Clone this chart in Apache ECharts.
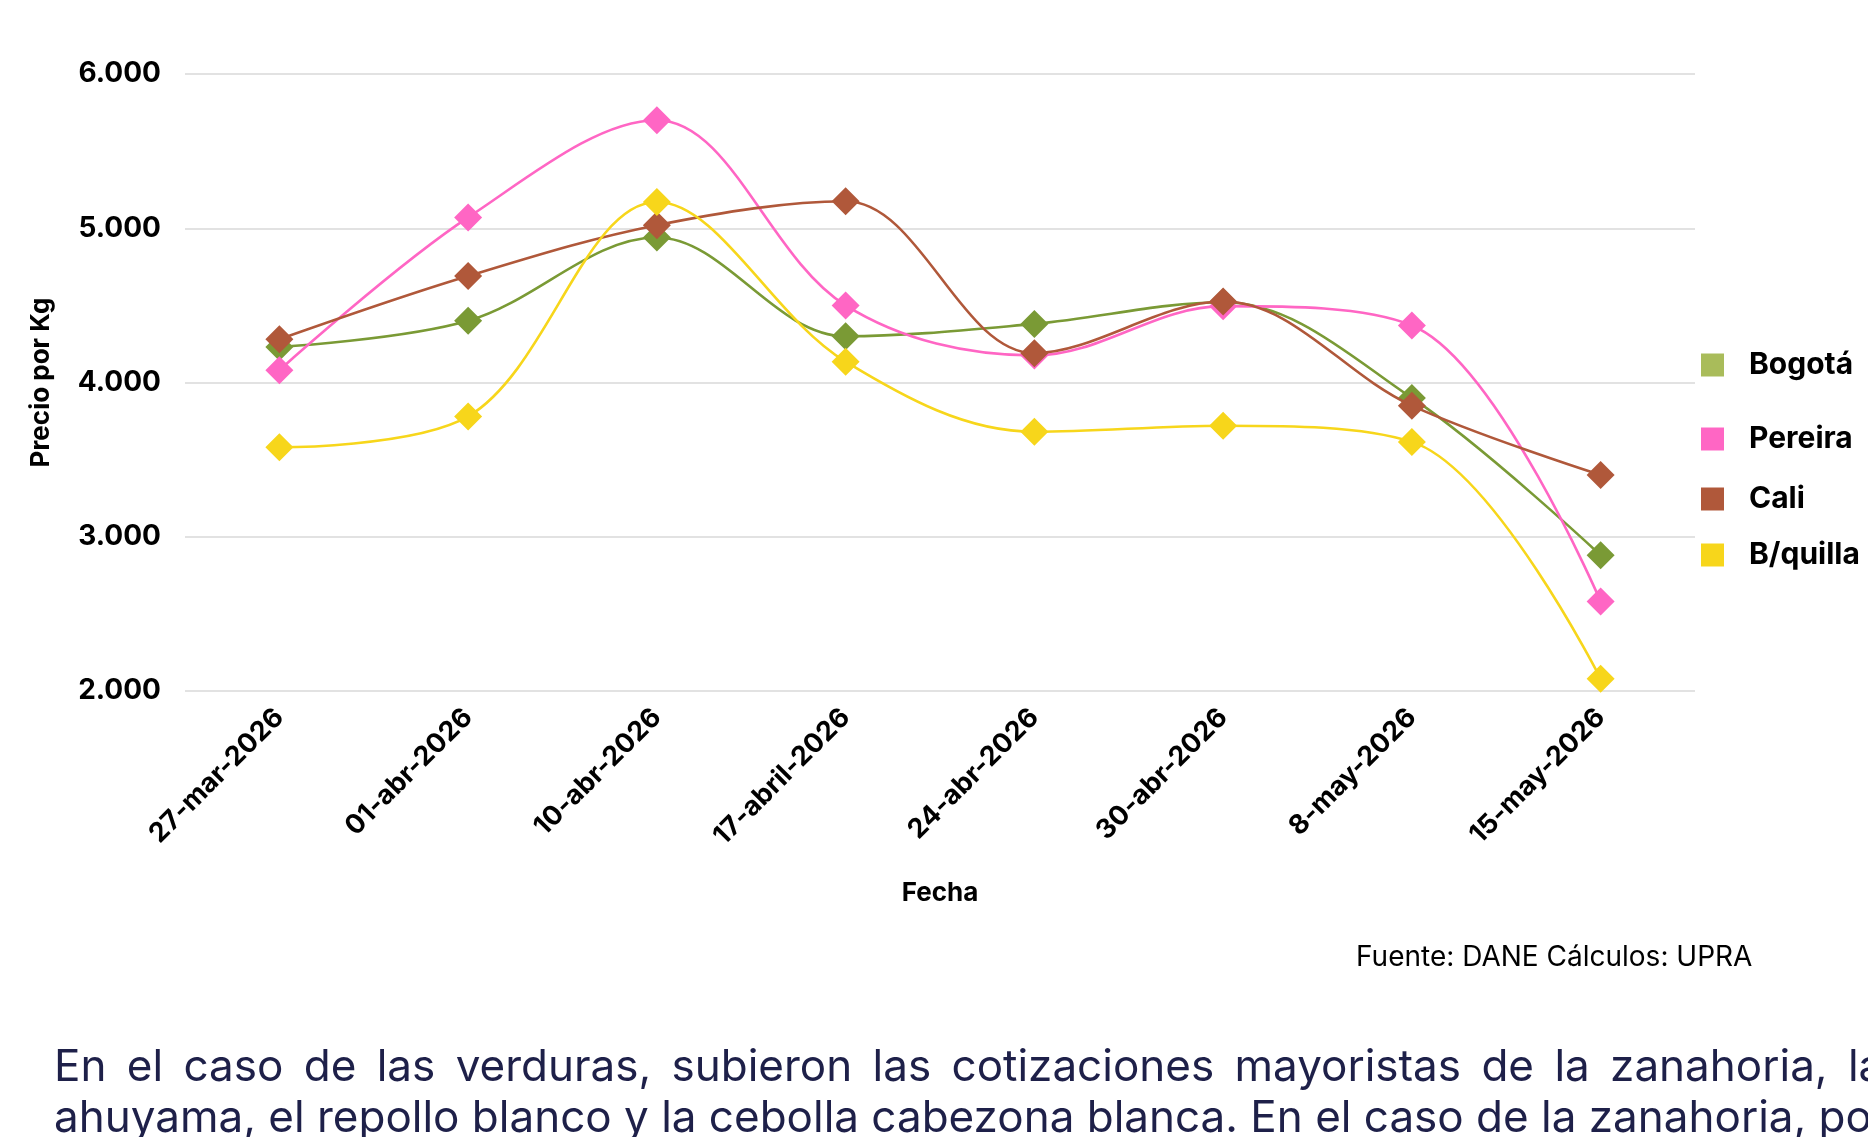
<!DOCTYPE html>
<html>
<head>
<meta charset="utf-8">
<script src="https://cdn.jsdelivr.net/npm/echarts@6/dist/echarts.min.js"></script>
<style>
html,body{margin:0;padding:0;background:#fff;}
#chart{width:1868px;height:1137px;}
</style>
</head>
<body>
<div id="chart"></div>
<script>
const categories = ['27-mar-2026','01-abr-2026','10-abr-2026','17-abril-2026','24-abr-2026','30-abr-2026','8-may-2026','15-may-2026'];
const bogota  = [4230, 4400, 4940, 4300, 4380, 4520, 3900, 2880];
const pereira = [4080, 5070, 5700, 4500, 4175, 4495, 4370, 2580];
const cali    = [4280, 4690, 5020, 5175, 4190, 4525, 3850, 3400];
const bquilla = [3580, 3780, 5170, 4135, 3680, 3720, 3615, 2080];
const seriesNames = ['Bogotá','Pereira','Cali','B/quilla'];
const yTicks = [2000, 3000, 4000, 5000, 6000];

const lineColors = ['#7A9A35','#FF66C4','#B0583A','#F7D61B'];
const legendColors = ['#A9BC5A','#FF66C4','#B0583A','#F7D61B'];
const allData = [bogota, pereira, cali, bquilla];
const legendTops = [350, 424, 484, 540];

const font = 'Inter, "DejaVu Sans", sans-serif';
const line1 = 'En el caso de las verduras, subieron las cotizaciones mayoristas de la zanahoria, la'.split(' ').join(' \u2009');

const chart = echarts.init(document.getElementById('chart'));
chart.setOption({
  animation: false,
  backgroundColor: '#ffffff',
  grid: {left: 185, right: 173, top: 74, bottom: 446},
  legend: seriesNames.map((n, i) => ({
    data: [{name: n, itemStyle: {color: legendColors[i]}}],
    orient: 'vertical',
    left: 1701,
    top: legendTops[i],
    icon: 'rect',
    itemWidth: 23,
    itemHeight: 23,
    padding: 0,
    selectedMode: false,
    textStyle: {fontFamily: font, fontSize: 30, fontWeight: 'bold', color: '#000', padding: [0,0,8,20]}
  })),
  xAxis: {
    type: 'category',
    data: categories,
    boundaryGap: true,
    axisLine: {show: false},
    axisTick: {show: false},
    axisLabel: {rotate: 45, margin: 22, fontFamily: font, fontSize: 27, fontWeight: 'bold', color: '#000', interval: 0},
    name: 'Fecha',
    nameLocation: 'middle',
    nameGap: 189,
    nameTextStyle: {fontFamily: font, fontSize: 26, fontWeight: 'bold', color: '#000'}
  },
  yAxis: {
    type: 'value',
    min: yTicks[0],
    max: yTicks[yTicks.length - 1],
    interval: 1000,
    axisLine: {show: false},
    axisTick: {show: false},
    splitLine: {lineStyle: {color: '#D9D9D9', width: 1.5}},
    axisLabel: {
      margin: 24,
      fontFamily: font, fontSize: 28, fontWeight: 'bold', color: '#000',
      formatter: v => v.toLocaleString('de-DE')
    },
    name: 'Precio por Kg',
    nameLocation: 'middle',
    nameGap: 131,
    nameRotate: 90,
    nameTextStyle: {fontFamily: font, fontSize: 26, fontWeight: 'bold', color: '#000'}
  },
  series: seriesNames.map((n, i) => ({
    name: n,
    type: 'line',
    data: allData[i],
    smooth: 0.35,
    symbol: 'diamond',
    symbolSize: 28,
    color: lineColors[i],
    lineStyle: {width: 2.6, color: lineColors[i]},
    itemStyle: {color: lineColors[i]},
    z: 2 + i
  })),
  graphic: [
    {type: 'text', left: 1356, top: 944, style: {text: 'Fuente: DANE Cálculos: UPRA', font: '28px ' + font, fill: '#000'}},
    {type: 'text', left: 54, top: 1046, style: {text: line1, font: '44px ' + font, fill: '#1E2049'}},
    {type: 'text', left: 54, top: 1097, style: {text: 'ahuyama, el repollo blanco y la cebolla cabezona blanca. En el caso de la zanahoria, por', font: '44px ' + font, fill: '#1E2049'}}
  ]
});
</script>
</body>
</html>
